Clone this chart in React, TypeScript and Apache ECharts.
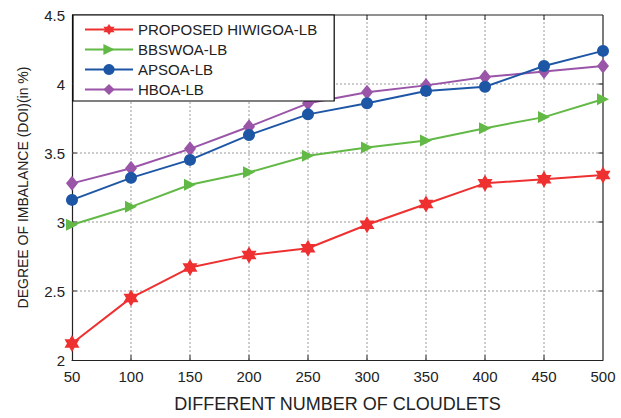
import React, { useEffect, useRef } from "react";
import * as echarts from "echarts";

const cloudlets = [50, 100, 150, 200, 250, 300, 350, 400, 450, 500];
const hiwigoa = [2.12, 2.45, 2.67, 2.76, 2.81, 2.98, 3.13, 3.28, 3.31, 3.34];
const bbswoa = [2.98, 3.11, 3.27, 3.36, 3.48, 3.54, 3.59, 3.68, 3.76, 3.89];
const apsoa = [3.16, 3.32, 3.45, 3.63, 3.78, 3.86, 3.95, 3.98, 4.13, 4.24];
const hboa = [3.28, 3.39, 3.53, 3.69, 3.86, 3.94, 3.99, 4.05, 4.09, 4.13];

const xMin = 50;
const xMax = 500;
const yMin = 2;
const yMax = 4.5;
const xGrid = [100, 150, 200, 250, 300, 350, 400, 450];
const yGrid = [2.5, 3, 3.5, 4];

const seriesNames = ["PROPOSED HIWIGOA-LB", "BBSWOA-LB", "APSOA-LB", "HBOA-LB"];
const colors = ["#EE3030", "#62B946", "#1E56A6", "#9A55A8"];

const FONT = "'Liberation Sans', Arial, Helvetica, sans-serif";
const HEXAGRAM =
  "path://M0,-100L28.9,-50L86.6,-50L57.7,0L86.6,50L28.9,50L0,100L-28.9,50L-86.6,50L-57.7,0L-86.6,-50L-28.9,-50Z";
const TRI_RIGHT = "path://M0,0L10,5L0,10Z";

export default function App() {
  const ref = useRef<HTMLDivElement>(null);
  useEffect(() => {
    document.body.style.margin = "0";
    if (!ref.current) return;
    const chart = echarts.init(ref.current, null, { renderer: "svg" });
    const pairs = (vals: number[]) => cloudlets.map((c, i) => [c, vals[i]]);
    const dataSets = [hiwigoa, bbswoa, apsoa, hboa];
    const symbols = [HEXAGRAM, TRI_RIGHT, "circle", "diamond"];
    const sizes: any[] = [[15, 17], [12, 12], 12, [12, 15]];
    const axisLine = () => ({ show: true, onZero: false, lineStyle: { color: "#222", width: 1.2 } });
    const refLine = (name: string, data: number[][], kind: "grid" | "frame" | "tick") => ({
      name,
      type: "line",
      data,
      symbol: "none",
      silent: true,
      clip: false,
      z: kind === "grid" ? 1 : 2,
      lineStyle:
        kind === "grid"
          ? { color: "#9a9a9a", type: [2, 2], width: 1 }
          : { color: "#222222", type: "solid", width: kind === "frame" ? 1.2 : 1 },
    });
    const tx = 0.035; // tick length in y units (~5px)
    const ty = 4; // tick length in x units (~5px)
    const gridSeries = [
      ...xGrid.map((v) => refLine("gx" + v, [[v, yMin], [v, yMax]], "grid")),
      ...yGrid.map((v) => refLine("gy" + v, [[xMin, v], [xMax, v]], "grid")),
      refLine("frameTop", [[xMin, yMax], [xMax, yMax]], "frame"),
      refLine("frameRight", [[xMax, yMin], [xMax, yMax]], "frame"),
      ...xGrid.map((v) => refLine("tt" + v, [[v, yMax], [v, yMax - tx]], "tick")),
      ...xGrid.map((v) => refLine("tb" + v, [[v, yMin], [v, yMin + tx]], "tick")),
      ...yGrid.map((v) => refLine("tr" + v, [[xMax, v], [xMax - ty, v]], "tick")),
      ...yGrid.map((v) => refLine("tl" + v, [[xMin, v], [xMin + ty, v]], "tick")),
    ];
    chart.setOption({
      animation: false,
      backgroundColor: "#ffffff",
      textStyle: { fontFamily: FONT },
      grid: { left: 72, right: 18, top: 15, bottom: 52 },
      legend: {
        left: 73,
        top: 15,
        orient: "vertical",
        backgroundColor: "#ffffff",
        borderColor: "#000",
        borderWidth: 1.2,
        borderRadius: 0,
        padding: [7, 17, 4, 11],
        itemWidth: 48,
        itemHeight: 14,
        itemGap: 5,
        textStyle: { fontSize: 15, color: "#222", fontFamily: FONT },
        data: seriesNames,
        z: 20,
      },
      xAxis: {
        type: "value",
        min: xMin,
        max: xMax,
        interval: 50,
        name: "DIFFERENT NUMBER OF CLOUDLETS",
        nameLocation: "middle",
        nameGap: 35,
        nameTextStyle: { fontSize: 18, color: "#222", fontFamily: FONT },
        axisLine: axisLine(),
        axisTick: { show: false },
        axisLabel: { fontSize: 15, color: "#222", margin: 9, fontFamily: FONT },
        splitLine: { show: false },
      },
      yAxis: {
        type: "value",
        min: yMin,
        max: yMax,
        interval: 0.5,
        name: "DEGREE OF IMBALANCE (DOI)(in %)",
        nameLocation: "middle",
        nameGap: 42,
        nameTextStyle: { fontSize: 14, color: "#222", fontFamily: FONT },
        axisLine: axisLine(),
        axisTick: { show: false },
        axisLabel: { fontSize: 15, color: "#222", margin: 7, fontFamily: FONT },
        splitLine: { show: false },
      },
      series: [
        ...gridSeries,
        ...seriesNames.map((name, i) => ({
          name,
          type: "line",
          data: pairs(dataSets[i]),
          symbol: symbols[i],
          symbolSize: sizes[i],
          showAllSymbol: true,
          clip: false,
          z: 10 - i,
          itemStyle: { color: colors[i], borderWidth: 0 },
          lineStyle: { color: colors[i], width: 2 },
        })),
      ],
    });
    return () => chart.dispose();
  }, []);
  return <div ref={ref} style={{ width: 621, height: 418 }} />;
}
